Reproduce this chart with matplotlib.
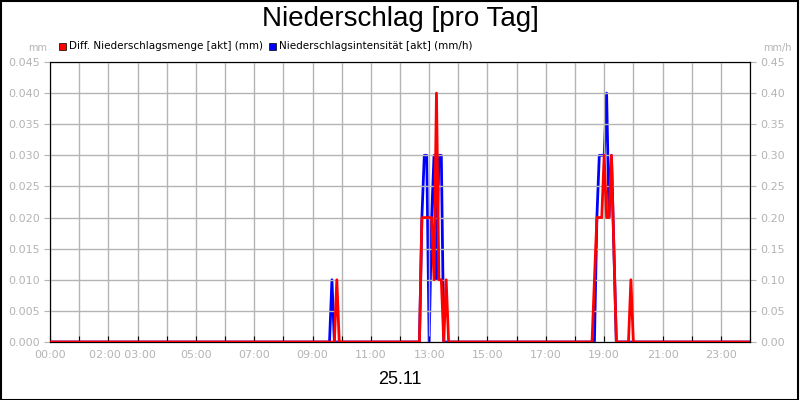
import matplotlib
matplotlib.use("Agg")
import matplotlib.pyplot as plt
from matplotlib.patches import Rectangle

# times in "HH:MM", values
red_times = ["00:00","09:45","09:50","09:55","12:40","12:45","12:50","12:55","13:00","13:05","13:10","13:15","13:20","13:25","13:30","13:35","13:40",
             "18:35","18:45","18:55","19:00","19:05","19:10","19:15","19:25","19:50","19:55","20:00","24:00"]
red_vals = [0,0,0.01,0,0,0.02,0.02,0.02,0.02,0.02,0.01,0.04,0.01,0.01,0,0.01,0,
            0,0.02,0.02,0.03,0.02,0.02,0.03,0,0,0.01,0,0]
blue_times = ["00:00","09:35","09:40","09:45","12:40","12:45","12:50","12:55","13:00","13:05","13:10","13:15","13:20","13:25","13:30",
              "18:40","18:45","18:50","18:55","19:00","19:05","19:10","19:15","19:25","24:00"]
blue_vals = [0,0,0.1,0,0,0.2,0.3,0.3,0,0.2,0.3,0.1,0.3,0.3,0,
             0,0.2,0.3,0.3,0.3,0.4,0.2,0.3,0,0]
xtick_labels = ["00:00","02:00 03:00","05:00","07:00","09:00","11:00","13:00","15:00","17:00","19:00","21:00","23:00"]
xtick_pos_h = [0,2.5,5,7,9,11,13,15,17,19,21,23]
left_ticks = [0,0.005,0.01,0.015,0.02,0.025,0.03,0.035,0.04,0.045]
right_ticks = [0,0.05,0.1,0.15,0.2,0.25,0.3,0.35,0.4,0.45]

def h(t):
    a, b = t.split(":")
    return int(a) + int(b) / 60

gray = "#b4b4b4"
fig = plt.figure(figsize=(8, 4), dpi=100)
fig.patches.append(Rectangle((0.001, 0.001), 0.997, 0.997, transform=fig.transFigure,
                             fill=False, edgecolor="black", lw=1.5))
ax = fig.add_axes([50/800, 58/400, 700/800, 280/400])
ax2 = ax.twinx()
ax.set_xlim(0, 24)
ax.set_ylim(0, 0.045)
ax2.set_ylim(0, 0.45)
ax.set_xticks(range(0, 25))
ax.set_xticklabels([""] * 25)
ax.tick_params(axis="x", which="major", length=4, color="black", direction="in")
for p, lab in zip(xtick_pos_h, xtick_labels):
    ax.text(p, -0.045, lab, transform=ax.get_xaxis_transform(), ha="center", va="center",
            fontsize=8, color=gray)
ax.set_yticks(left_ticks)
ax.set_yticklabels([f"{v:.3f}" for v in left_ticks])
ax2.set_yticks(right_ticks)
ax2.set_yticklabels([f"{v:.2f}" for v in right_ticks])
for a in (ax, ax2):
    a.tick_params(axis="y", labelsize=8, labelcolor=gray, length=4, color=gray)
ax.grid(True, which="major", color=gray, lw=1)
ax2.plot([h(t) for t in blue_times], blue_vals, color="#0000ff", lw=2)
ax.plot([h(t) for t in red_times], red_vals, color="#ff0000", lw=2, zorder=5)
ax.set_zorder(ax2.get_zorder() + 1)
ax.patch.set_visible(False)
for s in ax.spines.values():
    s.set_color("black")

fig.text(0.5, 0.953, "Niederschlag [pro Tag]", ha="center", va="center", fontsize=20, family="Liberation Sans")
fig.text(0.5, 0.05, "25.11", ha="center", va="center", fontsize=13, family="Liberation Sans")
fig.text(47/800, 1 - 48/400, "mm", ha="right", va="center", fontsize=7, color=gray)
fig.text(792/800, 1 - 48/400, "mm/h", ha="right", va="center", fontsize=7, color=gray)
fig.patches.append(Rectangle((59/800, 1 - 50/400), 7/800, 7/400, transform=fig.transFigure,
                             facecolor="#ff0000", edgecolor="black", lw=0.5))
fig.text(69/800, 1 - 46/400, "Diff. Niederschlagsmenge [akt] (mm)", va="center", fontsize=7.5)
fig.patches.append(Rectangle((269/800, 1 - 50/400), 7/800, 7/400, transform=fig.transFigure,
                             facecolor="#0000ff", edgecolor="black", lw=0.5))
fig.text(279/800, 1 - 46/400, "Niederschlagsintensität [akt] (mm/h)", va="center", fontsize=7.5)
fig.savefig("out.png", dpi=100)
